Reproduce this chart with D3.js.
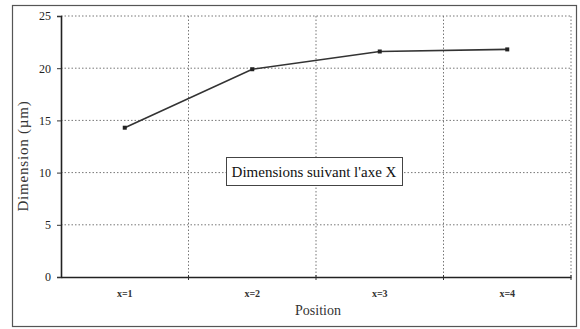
<!DOCTYPE html>
<html><head><meta charset="utf-8">
<script src="https://cdn.jsdelivr.net/npm/d3@7"></script>
<style>body{margin:0;background:#fff}svg{display:block}</style>
</head><body><svg id="c" width="580" height="329"></svg>
<script>
const categories = ["x=1", "x=2", "x=3", "x=4"];
const values = [14.3, 19.9, 21.6, 21.8];
const yTicks = [0, 5, 10, 15, 20, 25];
const yLabel = "Dimension (µm)";
const xLabel = "Position";
const note = "Dimensions suivant l'axe X";

const svg = d3.select("#c");
const m = {l: 61, r: 571, t: 16, b: 277};
const x = d3.scaleBand().domain(categories).range([m.l, m.r]);
const y = d3.scaleLinear().domain([0, 25]).range([m.b, m.t]);
const font = "'Liberation Serif', 'DejaVu Serif', serif";

// outer frame
svg.append("rect").attr("x", 12.5).attr("y", 5.5).attr("width", 564).attr("height", 321)
  .attr("fill", "none").attr("stroke", "#555").attr("stroke-width", 1.2);

// grid
const grid = svg.append("g").attr("stroke", "#777").attr("stroke-width", 1).attr("stroke-dasharray", "1.5,2");
grid.selectAll("line.h").data(yTicks.filter(d => d > 0)).join("line")
  .attr("x1", m.l).attr("x2", m.r).attr("y1", d => y(d)).attr("y2", d => y(d));
grid.selectAll("line.v").data(categories).join("line")
  .attr("x1", d => x(d) + x.bandwidth()).attr("x2", d => x(d) + x.bandwidth())
  .attr("y1", m.t).attr("y2", m.b);

// axes
const yAxis = d3.axisLeft(y).tickValues(yTicks).tickSize(4).tickPadding(6);
const gy = svg.append("g").attr("transform", `translate(${m.l},0)`).call(yAxis);
gy.select(".domain").attr("stroke", "#222").attr("stroke-width", 1.6);
gy.selectAll(".tick line").attr("stroke", "#333");
gy.selectAll("text").attr("font-family", font).attr("font-size", 12).attr("fill", "#222");

const gx = svg.append("g").attr("transform", `translate(0,${m.b})`)
  .call(d3.axisBottom(x).tickSize(0).tickPadding(13));
gx.select(".domain").attr("stroke", "#222").attr("stroke-width", 1.6);
gx.selectAll("text").attr("font-family", font).attr("font-size", 10).attr("font-weight", "bold").attr("fill", "#333");
// category boundary ticks
svg.append("g").selectAll("line").data(categories).join("line")
  .attr("x1", d => x(d) + x.bandwidth()).attr("x2", d => x(d) + x.bandwidth())
  .attr("y1", m.b - 2).attr("y2", m.b + 3).attr("stroke", "#333");

// line
const cx = d => x(d) + x.bandwidth() / 2;
svg.append("path").datum(values)
  .attr("d", d3.line().x((d, i) => cx(categories[i])).y(d => y(d)))
  .attr("fill", "none").attr("stroke", "#333").attr("stroke-width", 1.6);
svg.append("g").selectAll("rect").data(values).join("rect")
  .attr("x", (d, i) => cx(categories[i]) - 2).attr("y", d => y(d) - 2)
  .attr("width", 4).attr("height", 4).attr("fill", "#222");

// labels
svg.append("text").attr("x", 318).attr("y", 315).attr("text-anchor", "middle")
  .attr("font-family", font).attr("font-size", 14).attr("fill", "#333").text(xLabel);
svg.append("text").attr("transform", "translate(28,156) rotate(-90)").attr("text-anchor", "middle")
  .attr("font-family", font).attr("font-size", 15).attr("letter-spacing", 0.8).attr("fill", "#333").text(yLabel);

// annotation box
svg.append("rect").attr("x", 226.5).attr("y", 157.5).attr("width", 176).attr("height", 28)
  .attr("fill", "#fff").attr("stroke", "#444").attr("stroke-width", 1);
svg.append("text").attr("x", 314).attr("y", 177).attr("text-anchor", "middle")
  .attr("font-family", font).attr("font-size", 15).attr("fill", "#111").text(note);
</script></body></html>
